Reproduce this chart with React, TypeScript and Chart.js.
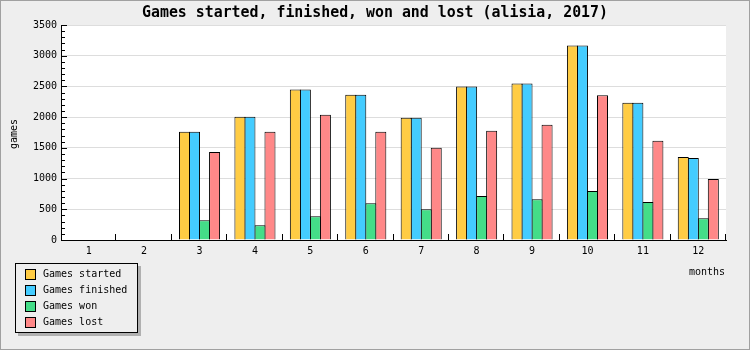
import React, { useEffect, useRef } from "react";
import { Chart, registerables } from "chart.js";

Chart.register(...registerables);

const months = ["1", "2", "3", "4", "5", "6", "7", "8", "9", "10", "11", "12"];
const gamesStarted = [0, 0, 1761, 2007, 2448, 2366, 1990, 2497, 2546, 3165, 2236, 1352];
const gamesFinished = [0, 0, 1761, 2007, 2448, 2366, 1990, 2497, 2546, 3165, 2236, 1336];
const gamesWon = [0, 0, 322, 240, 388, 600, 502, 715, 665, 796, 617, 355];
const gamesLost = [0, 0, 1434, 1761, 2039, 1761, 1500, 1778, 1876, 2355, 1614, 993];

const seriesNames = ["Games started", "Games finished", "Games won", "Games lost"];
const seriesColors = ["#ffcc44", "#44ccff", "#44dd88", "#ff8888"];

const chartTitle = "Games started, finished, won and lost (alisia, 2017)";
const yTitle = "games";
const xTitle = "months";

const FONT = "'DejaVu Sans Mono', 'Liberation Mono', monospace";

const decor = {
  id: "decor",
  beforeDraw(chart: any) {
    const ctx = chart.ctx;
    const { left, right, top, bottom } = chart.chartArea;
    ctx.save();
    ctx.fillStyle = "#eeeeee";
    ctx.fillRect(0, 0, chart.width, chart.height);
    ctx.strokeStyle = "#a0a0a0";
    ctx.lineWidth = 1;
    ctx.strokeRect(0.5, 0.5, chart.width - 1, chart.height - 1);
    ctx.fillStyle = "#ffffff";
    ctx.fillRect(left, top, right - left, bottom - top);
    ctx.restore();
  },
  afterDraw(chart: any) {
    const ctx = chart.ctx;
    const { left, bottom } = chart.chartArea;
    const ys = chart.scales.y;
    const xs = chart.scales.x;
    ctx.save();
    ctx.strokeStyle = "#000";
    ctx.lineWidth = 1;
    ctx.beginPath();
    const lx = Math.round(left);
    for (let v = ys.min; v <= ys.max; v += 100) {
      const py = Math.round(ys.getPixelForValue(v)) + 0.5;
      const len = v % 500 === 0 ? 6 : 4;
      ctx.moveTo(lx, py);
      ctx.lineTo(lx + len, py);
    }
    const by = Math.round(bottom);
    for (let i = 1; i <= months.length; i++) {
      const px = Math.round(xs.getPixelForValue(i - 0.5)) - 0.5;
      ctx.moveTo(px, by);
      ctx.lineTo(px, by - 6);
    }
    ctx.stroke();

    ctx.fillStyle = "#000";
    ctx.font = `bold 15px ${FONT}`;
    ctx.textAlign = "center";
    ctx.textBaseline = "middle";
    ctx.fillText(chartTitle, chart.width / 2, 13, 466);

    ctx.font = `10px ${FONT}`;
    ctx.save();
    ctx.translate(14, 134);
    ctx.rotate(-Math.PI / 2);
    ctx.textAlign = "center";
    ctx.textBaseline = "middle";
    ctx.fillText(yTitle, 0, 0);
    ctx.restore();
    ctx.textAlign = "right";
    ctx.textBaseline = "middle";
    ctx.fillText(xTitle, 725, 272);

    ctx.fillStyle = "#b0b0b0";
    ctx.fillRect(18, 266, 123, 70);
    ctx.fillStyle = "#eeeeee";
    ctx.fillRect(15, 263, 122, 69);
    ctx.strokeStyle = "#000";
    ctx.strokeRect(15.5, 263.5, 122, 69);
    ctx.textAlign = "left";
    ctx.textBaseline = "middle";
    ctx.font = `10px ${FONT}`;
    seriesNames.forEach((name, i) => {
      const sy = 269 + i * 16;
      ctx.fillStyle = seriesColors[i];
      ctx.fillRect(25, sy, 11, 11);
      ctx.strokeStyle = "#000";
      ctx.strokeRect(25.5, sy + 0.5, 10, 10);
      ctx.fillStyle = "#000";
      ctx.fillText(name, 43, sy + 5.5);
    });
    ctx.restore();
  },
};

export default function App() {
  const ref = useRef<HTMLCanvasElement | null>(null);
  useEffect(() => {
    if (!ref.current) return;
    const values = [gamesStarted, gamesFinished, gamesWon, gamesLost];
    const chart = new Chart(ref.current, {
      type: "bar",
      data: {
        labels: months,
        datasets: seriesNames.map((name, i) => ({
          label: name,
          data: values[i],
          backgroundColor: seriesColors[i],
          borderColor: "#000",
          borderWidth: 1,
          borderSkipped: "start",
          inflateAmount: 0,
          categoryPercentage: 0.723,
          barPercentage: 1.1,
        })),
      },
      options: {
        responsive: false,
        animation: false,
        layout: { padding: { left: 0, right: 24, top: 25, bottom: 90 } },
        plugins: {
          legend: { display: false },
          title: { display: false },
          tooltip: { enabled: false },
        },
        scales: {
          x: {
            grid: { display: false, drawTicks: false },
            border: { display: true, color: "#000", width: 1 },
            ticks: {
              color: "#000",
              font: { family: FONT, size: 10 },
              padding: 5,
              maxRotation: 0,
              autoSkip: false,
            },
            afterFit: (s: any) => {
              s.height = 20;
            },
          },
          y: {
            min: 0,
            max: 3500,
            ticks: {
              stepSize: 500,
              color: "#000",
              font: { family: FONT, size: 10 },
              padding: 4,
              callback: (v: any) => String(v),
            },
            grid: { color: "#dddddd", drawTicks: false },
            border: { display: true, color: "#000", width: 1 },
            afterFit: (s: any) => {
              s.width = 61;
            },
          },
        },
      } as any,
      plugins: [decor],
    });
    return () => chart.destroy();
  }, []);
  return (
    <div style={{ position: "absolute", left: 0, top: 0, width: 750, height: 350 }}>
      <canvas ref={ref} width={750} height={350} style={{ display: "block" }} />
    </div>
  );
}
